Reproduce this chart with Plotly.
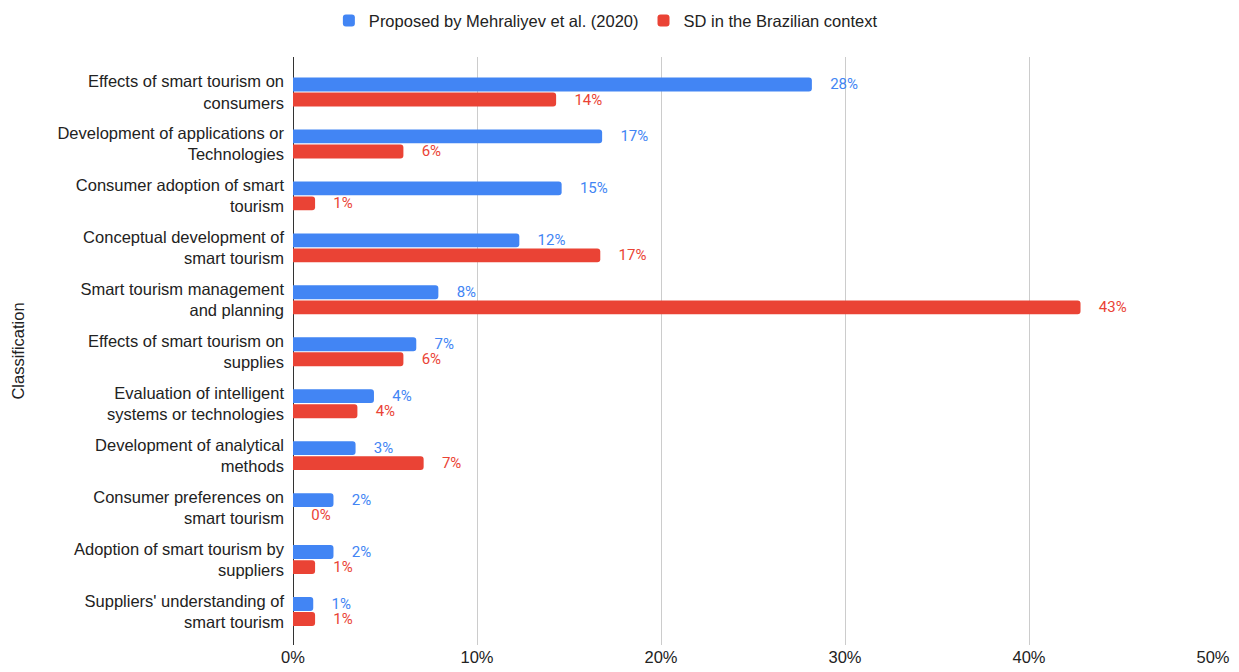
import plotly.graph_objects as go

categories = [
    "Effects of smart tourism on<br>consumers",
    "Development of applications or<br>Technologies",
    "Consumer adoption of smart<br>tourism",
    "Conceptual development of<br>smart tourism",
    "Smart tourism management<br>and planning",
    "Effects of smart tourism on<br>supplies",
    "Evaluation of intelligent<br>systems or technologies",
    "Development of analytical<br>methods",
    "Consumer preferences on<br>smart tourism",
    "Adoption of smart tourism by<br>suppliers",
    "Suppliers' understanding of<br>smart tourism",
]
proposed = [28.2, 16.8, 14.6, 12.3, 7.9, 6.7, 4.4, 3.4, 2.2, 2.2, 1.1]
brazil = [14.3, 6.0, 1.2, 16.7, 42.8, 6.0, 3.5, 7.1, 0.0, 1.2, 1.2]
series_names = ["Proposed by Mehraliyev et al. (2020)", "SD in the Brazilian context"]
x_ticks = [0, 10, 20, 30, 40, 50]
x_tick_labels = ["0%", "10%", "20%", "30%", "40%", "50%"]

BLUE = "#4285F4"
RED = "#EA4335"
PAD = "\u2002\u2002"
FS = 16.5

fig = go.Figure()
for name, vals, col in [(series_names[0], proposed, BLUE), (series_names[1], brazil, RED)]:
    fig.add_trace(go.Bar(
        y=categories, x=vals, orientation="h", name=name,
        marker=dict(color=col, cornerradius=3, line=dict(width=0)),
        text=[f"{PAD}{round(v):d}%" for v in vals],
        textposition="outside", cliponaxis=False, constraintext="none",
        textfont=dict(family="Roboto", size=15, color=col),
        hoverinfo="skip",
    ))

fig.update_layout(
    width=1239, height=672,
    paper_bgcolor="white", plot_bgcolor="white",
    margin=dict(l=293, r=26, t=57, b=27, autoexpand=False),
    barmode="group", bargap=0.42, bargroupgap=0.08,
    font=dict(family="Liberation Sans, Arial", size=FS, color="#222"),
    legend=dict(orientation="h", xref="container", yref="container",
                x=0.489, xanchor="center", y=0.995, yanchor="top",
                font=dict(size=FS, color="#222"), itemwidth=30,
                traceorder="normal"),
)
fig.update_xaxes(
    range=[0, 50], tickmode="array", tickvals=x_ticks, ticktext=x_tick_labels,
    showgrid=True, gridcolor="#cccccc", gridwidth=1,
    zeroline=True, zerolinecolor="#333333", zerolinewidth=1,
    showline=False, tickfont=dict(size=FS, color="#222"),
    fixedrange=True, automargin=False,
)
fig.update_yaxes(
    range=[10.645, -0.674], showgrid=False, automargin=False,
    title=dict(text="Classification", font=dict(size=FS, color="#222"), standoff=28),
    ticks="", ticklabelstandoff=8, tickfont=dict(size=FS, color="#222"),
    showline=False,
)
fig.write_html("out.html")
